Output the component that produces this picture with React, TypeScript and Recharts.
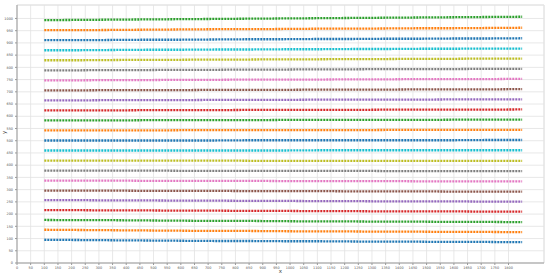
import React from "react";
import {
  LineChart,
  Line,
  XAxis,
  YAxis,
  CartesianGrid,
  ReferenceLine,
} from "recharts";

// x positions shared by every series
const xs = [100, 225, 350, 475, 600, 725, 850, 975, 1100, 1225, 1350, 1475, 1600, 1725, 1850];

// series, bottom to top
const s1 = [95, 94, 93, 92, 91, 90, 90, 89, 89, 88, 87, 87, 86, 86, 85];
const s2 = [136, 135, 134, 133, 132, 131, 131, 130, 129, 129, 128, 128, 127, 127, 126];
const s3 = [176, 175, 175, 174, 173, 172, 172, 171, 170, 170, 169, 169, 168, 168, 167];
const s4 = [216, 216, 215, 215, 214, 214, 213, 213, 212, 212, 211, 211, 211, 210, 210];
const s5 = [257, 257, 256, 256, 255, 255, 254, 254, 253, 253, 252, 252, 252, 251, 251];
const s6 = [296, 296, 296, 295, 295, 295, 294, 294, 294, 293, 293, 293, 292, 292, 292];
const s7 = [337, 337, 337, 336, 336, 336, 336, 335, 335, 335, 335, 334, 334, 334, 334];
const s8 = [378, 378, 378, 378, 377, 377, 377, 377, 377, 377, 376, 376, 376, 376, 376];
const s9 = [419, 419, 419, 419, 419, 419, 418, 418, 418, 418, 418, 418, 418, 418, 418];
const s10 = [460, 460, 460, 460, 460, 460, 460, 460, 461, 461, 461, 461, 461, 461, 461];
const s11 = [501, 501, 501, 501, 501, 501, 502, 502, 502, 502, 502, 502, 502, 503, 503];
const s12 = [542, 542, 542, 542, 543, 543, 543, 543, 543, 543, 544, 544, 544, 544, 544];
const s13 = [583, 583, 583, 584, 584, 584, 584, 585, 585, 585, 585, 585, 586, 586, 586];
const s14 = [624, 624, 624, 625, 625, 625, 626, 626, 626, 626, 627, 627, 627, 627, 628];
const s15 = [665, 665, 666, 666, 666, 667, 667, 667, 668, 668, 668, 668, 669, 669, 669];
const s16 = [706, 706, 707, 707, 707, 708, 708, 708, 709, 709, 709, 710, 710, 710, 711];
const s17 = [747, 747, 748, 748, 749, 749, 750, 750, 750, 751, 751, 752, 752, 752, 753];
const s18 = [788, 788, 789, 789, 790, 790, 791, 791, 792, 792, 793, 793, 793, 794, 794];
const s19 = [829, 829, 830, 831, 831, 832, 832, 833, 833, 834, 834, 835, 835, 836, 836];
const s20 = [870, 870, 871, 872, 872, 873, 873, 874, 874, 875, 875, 876, 876, 877, 877];
const s21 = [911, 911, 912, 913, 913, 914, 915, 915, 916, 916, 917, 917, 918, 918, 919];
const s22 = [952, 952, 953, 954, 955, 956, 956, 957, 958, 958, 959, 960, 960, 961, 962];
const s23 = [993, 994, 995, 996, 997, 998, 999, 1000, 1001, 1002, 1003, 1004, 1005, 1006, 1007];

const series = [s1, s2, s3, s4, s5, s6, s7, s8, s9, s10, s11, s12, s13, s14, s15, s16, s17, s18, s19, s20, s21, s22, s23];

const xTicks = [0, 50, 100, 150, 200, 250, 300, 350, 400, 450, 500, 550, 600, 650, 700, 750, 800, 850, 900, 950, 1000, 1050, 1100, 1150, 1200, 1250, 1300, 1350, 1400, 1450, 1500, 1550, 1600, 1650, 1700, 1750, 1800];
const yTicks = [0, 50, 100, 150, 200, 250, 300, 350, 400, 450, 500, 550, 600, 650, 700, 750, 800, 850, 900, 950, 1000];

const palette = ["#1f77b4", "#ff7f0e", "#2ca02c", "#d62728", "#9467bd", "#8c564b", "#e377c2", "#7f7f7f", "#bcbd22", "#17becf"];

const data = xs.map((x, i) => {
  const row: any = { x };
  series.forEach((s, j) => {
    row["s" + j] = s[i];
  });
  return row;
});

const tickStyle = { fontSize: 3.4, fill: "#555", fontFamily: "DejaVu Sans" };

export default function App() {
  return (
    <div style={{ position: "absolute", left: 0, top: 0 }}>
      <LineChart
        width={550}
        height={278}
        data={data}
        margin={{ top: 5, right: 6, left: 0, bottom: 5 }}
      >
        <CartesianGrid stroke="#e2e2e2" strokeWidth={0.8} />
        <XAxis
          dataKey="x"
          type="number"
          domain={[0, 1930]}
          ticks={xTicks}
          interval={0}
          tick={tickStyle}
          tickSize={2}
          height={10}
          stroke="#999"
          label={{ value: "x", position: "insideBottom", offset: 0, fontSize: 5.5, fill: "#444", fontFamily: "DejaVu Sans" }}
        />
        <YAxis
          type="number"
          domain={[0, 1055]}
          ticks={yTicks}
          interval={0}
          tick={tickStyle}
          tickSize={2}
          width={17}
          stroke="#999"
          label={{ value: "y", angle: -90, position: "insideLeft", offset: 4, fontSize: 5.5, fill: "#444", fontFamily: "DejaVu Sans" }}
        />
        <ReferenceLine x={1930} stroke="#e2e2e2" />
        <ReferenceLine y={1055} stroke="#e2e2e2" />
        {series.map((_, j) => (
          <Line
            key={j}
            dataKey={"s" + j}
            type="linear"
            stroke={palette[j % 10]}
            strokeWidth={2.3}
            strokeDasharray="2 1"
            dot={false}
            isAnimationActive={false}
          />
        ))}
      </LineChart>
    </div>
  );
}
